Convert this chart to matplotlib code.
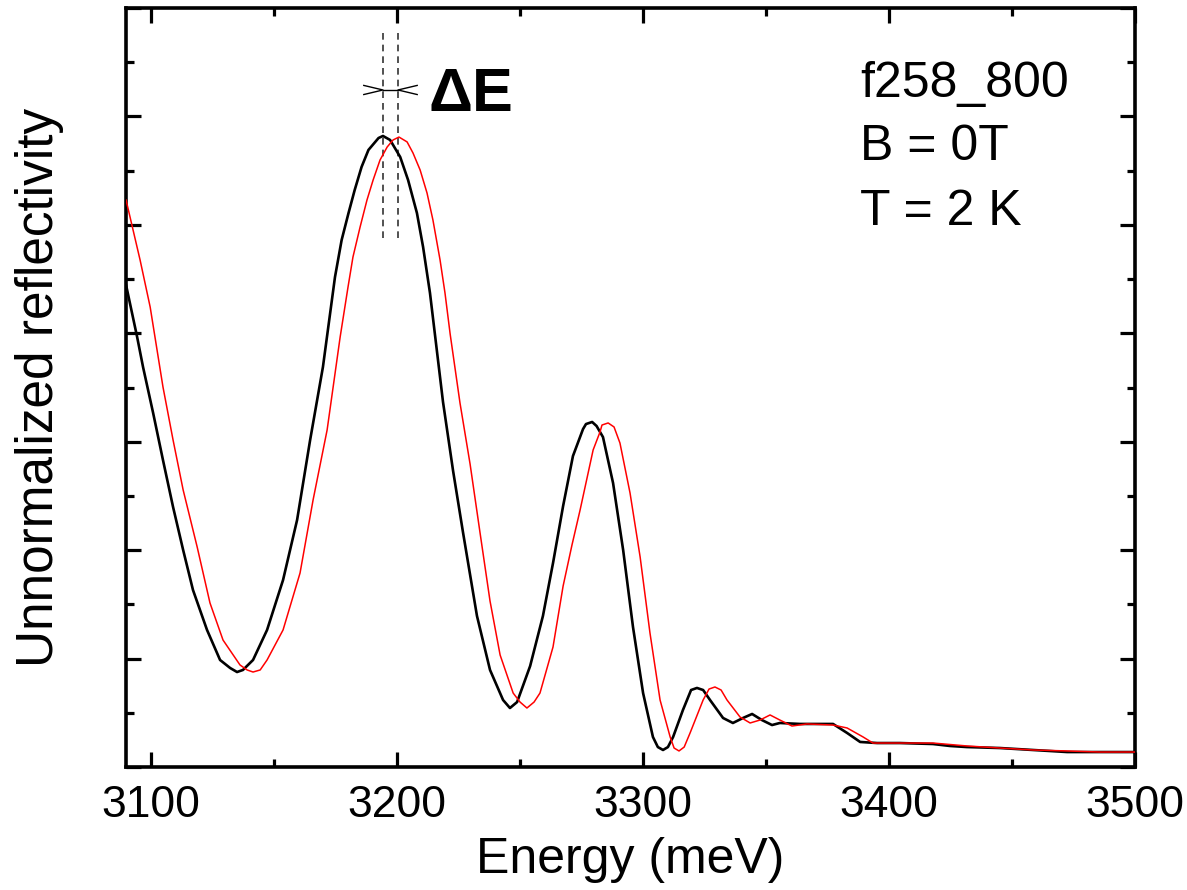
import numpy as np
import matplotlib
matplotlib.use("Agg")
import matplotlib.pyplot as plt
from matplotlib.ticker import MultipleLocator, NullFormatter

plt.rcParams['font.family'] = ['Liberation Sans', 'DejaVu Sans']

# reflectivity spectra, B = 0 T (black) and shifted spectrum (red)
energy_black = [3090.0, 3094.5, 3096.9, 3101.0, 3105.0, 3109.1, 3113.2, 3117.2, 3122.9, 3128.2,
                3132.3, 3135.1, 3137.5, 3141.6, 3147.3, 3153.8, 3159.5, 3164.8, 3170.0, 3174.9,
                3177.6, 3180.4, 3182.9, 3185.7, 3188.5, 3192.6, 3194.4, 3197.3, 3201.4, 3204.6,
                3208.2, 3210.7, 3213.5, 3218.8, 3222.9, 3226.9, 3232.6, 3237.9, 3243.2, 3246.0,
                3248.9, 3254.2, 3259.4, 3263.5, 3267.6, 3271.6, 3275.7, 3276.9, 3279.4, 3281.2,
                3283.8, 3287.9, 3292.0, 3296.0, 3300.1, 3304.1, 3306.1, 3308.2, 3310.2, 3312.3,
                3316.3, 3319.6, 3322.0, 3324.5, 3327.3, 3332.6, 3336.6, 3340.7, 3344.4, 3348.4,
                3352.5, 3355.7, 3363.9, 3377.3, 3383.0, 3388.3, 3395.2, 3404.5, 3417.9, 3424.8,
                3431.7, 3445.1, 3458.5, 3472.4, 3485.8, 3500.0]
refl_black = [4.445, 3.966, 3.689, 3.265, 2.831, 2.398, 2.001, 1.632, 1.264, 0.987,
              0.913, 0.876, 0.895, 0.987, 1.264, 1.725, 2.278, 3.016, 3.689, 4.519,
              4.860, 5.109, 5.321, 5.534, 5.691, 5.801, 5.820, 5.783, 5.626, 5.414,
              5.109, 4.796, 4.372, 3.366, 2.730, 2.167, 1.393, 0.895, 0.618, 0.544,
              0.599, 0.931, 1.393, 1.881, 2.407, 2.868, 3.117, 3.163, 3.182, 3.145,
              3.043, 2.619, 2.001, 1.291, 0.682, 0.277, 0.184, 0.157, 0.184, 0.277,
              0.526, 0.710, 0.729, 0.710, 0.618, 0.452, 0.406, 0.452, 0.489, 0.433,
              0.387, 0.406, 0.397, 0.397, 0.314, 0.231, 0.221, 0.221, 0.212, 0.194,
              0.184, 0.175, 0.157, 0.138, 0.138, 0.138]

energy_red = [3090.0, 3095.7, 3099.8, 3105.0, 3109.1, 3113.2, 3118.9, 3124.1, 3129.4, 3136.3,
              3139.2, 3141.6, 3144.5, 3147.3, 3153.8, 3160.7, 3166.0, 3171.7, 3177.0, 3180.2,
              3182.2, 3185.1, 3187.9, 3190.4, 3193.2, 3196.1, 3198.5, 3200.9, 3204.2, 3206.6,
              3209.5, 3212.3, 3214.7, 3217.6, 3219.6, 3221.7, 3225.7, 3229.8, 3233.8, 3237.9,
              3242.0, 3247.3, 3250.1, 3252.9, 3255.8, 3258.2, 3263.5, 3267.6, 3271.2, 3274.5,
              3279.8, 3282.6, 3283.4, 3285.9, 3288.3, 3290.7, 3294.8, 3298.9, 3302.9, 3307.0,
              3311.1, 3312.7, 3314.7, 3316.8, 3319.2, 3324.5, 3326.9, 3329.3, 3331.8, 3334.2,
              3339.5, 3343.6, 3347.6, 3351.7, 3355.7, 3360.6, 3366.7, 3377.3, 3383.0, 3389.5,
              3393.5, 3404.5, 3417.9, 3431.7, 3445.1, 3458.5, 3472.4, 3485.8, 3500.0]
refl_red = [5.229, 4.676, 4.242, 3.505, 3.016, 2.555, 2.029, 1.513, 1.171, 0.941,
            0.895, 0.876, 0.895, 0.987, 1.264, 1.789, 2.463, 3.108, 3.966, 4.427,
            4.703, 4.980, 5.229, 5.414, 5.598, 5.718, 5.783, 5.810, 5.765, 5.663,
            5.506, 5.294, 5.045, 4.676, 4.372, 3.993, 3.357, 2.794, 2.167, 1.531,
            1.033, 0.682, 0.599, 0.544, 0.599, 0.682, 1.107, 1.669, 2.047, 2.370,
            2.924, 3.090, 3.154, 3.173, 3.136, 2.988, 2.527, 1.937, 1.236, 0.618,
            0.277, 0.175, 0.148, 0.184, 0.314, 0.618, 0.719, 0.738, 0.710, 0.618,
            0.461, 0.406, 0.433, 0.480, 0.433, 0.378, 0.397, 0.387, 0.360, 0.277,
            0.221, 0.221, 0.221, 0.194, 0.175, 0.157, 0.148, 0.138, 0.138]

# peak positions used for the Delta E marker
peak_black = 3194.4
peak_red = 3200.5
dash_y = [4.88, 6.78]
arrow_y = 6.244
arrow_len = 7.8
arrow_spread = 0.042

info_lines = ["f258_800", "B = 0T", "T = 2 K"]
info_y = [0.8827, 0.7997, 0.7141]

fig = plt.figure(figsize=(11.87, 8.9), dpi=100)
ax = fig.add_axes([0.1062, 0.1382, 0.8500, 0.8528])

ax.plot(energy_black, refl_black, color='black', lw=1.9, zorder=3)
ax.plot(energy_red, refl_red, color='red', lw=1.1, zorder=4)

# vertical guides at both peak maxima
for e in [peak_black, peak_red]:
    ax.plot([e, e], dash_y, color='#333333', lw=1.2, ls=(0, (4, 3)), zorder=2)

# inward pointing arrowheads + connecting bar
ax.plot([peak_black, peak_red], [arrow_y, arrow_y], color='black', lw=1.0)
ax.plot([peak_black - arrow_len, peak_black, peak_black - arrow_len],
        [arrow_y + arrow_spread, arrow_y, arrow_y - arrow_spread], color='black', lw=1.0)
ax.plot([peak_red + arrow_len, peak_red, peak_red + arrow_len],
        [arrow_y + arrow_spread, arrow_y, arrow_y - arrow_spread], color='black', lw=1.0)
ax.text(0.300, 0.864, "ΔE", transform=ax.transAxes, fontsize=44, fontweight='bold',
        ha='left', va='baseline')

for line, y in zip(info_lines, info_y):
    ax.text(0.7275, y, line, transform=ax.transAxes, fontsize=36, ha='left', va='baseline')

ax.set_xlim(3090, 3500)
ax.set_ylim(0, 7)
ax.xaxis.set_major_locator(MultipleLocator(100))
ax.xaxis.set_minor_locator(MultipleLocator(50))
ax.yaxis.set_major_locator(MultipleLocator(1))
ax.yaxis.set_minor_locator(MultipleLocator(0.5))
ax.yaxis.set_major_formatter(NullFormatter())

ax.tick_params(axis='both', which='both', direction='in', top=True, right=True, width=2.3)
ax.tick_params(axis='both', which='major', length=11)
ax.tick_params(axis='both', which='minor', length=5.5)
ax.tick_params(axis='x', which='major', labelsize=32, pad=13)
for sp in ax.spines.values():
    sp.set_linewidth(2.6)

ax.set_xlabel("Energy (meV)", fontsize=36, labelpad=8)
ax.set_ylabel("Unnormalized reflectivity", fontsize=37, labelpad=41)

fig.savefig("out.png", dpi=100)
